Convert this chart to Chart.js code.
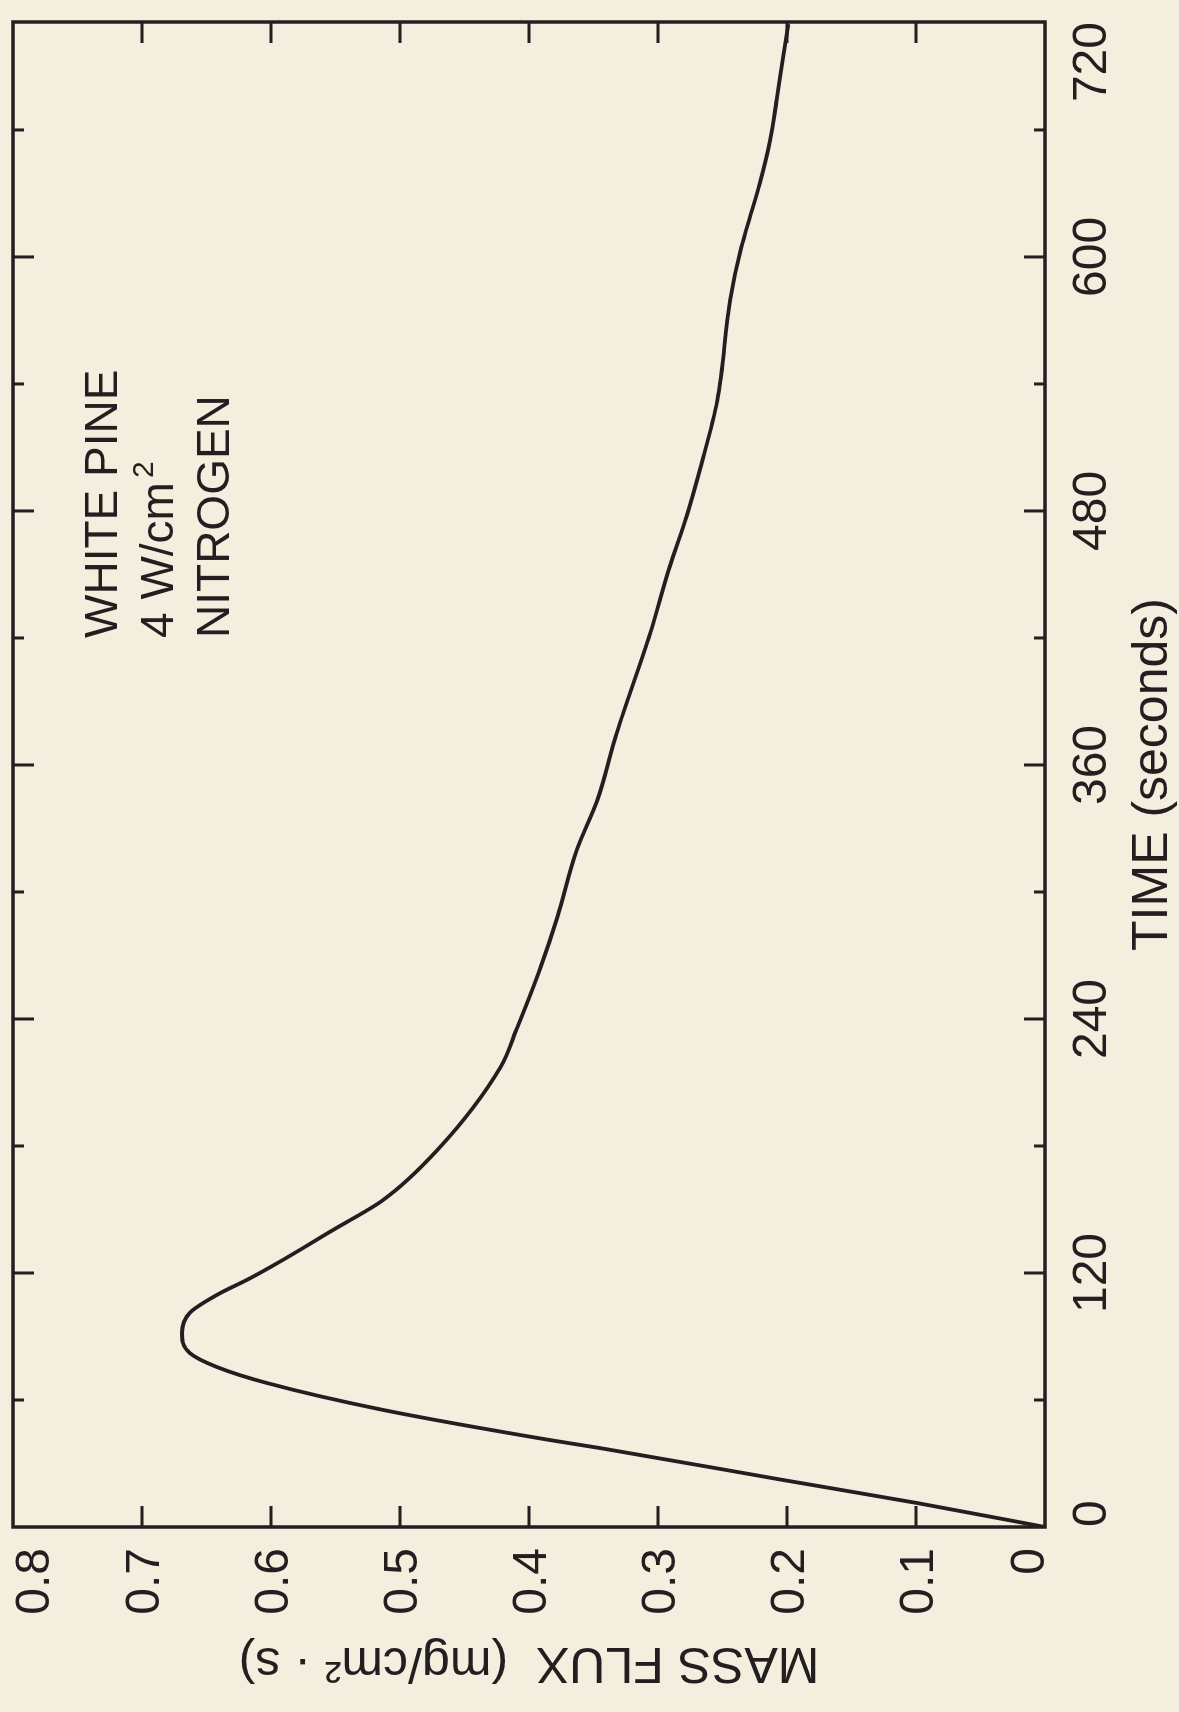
<!DOCTYPE html>
<html>
<head>
<meta charset="utf-8">
<script src="https://cdn.jsdelivr.net/npm/chart.js@4.4.1/dist/chart.umd.min.js"></script>
<style>
  html, body { margin: 0; padding: 0; background: #f3eedd; }
  body { width: 1179px; height: 1712px; position: relative; overflow: hidden; }
  #wrap { position: absolute; left: 0; top: 0; width: 1712px; height: 1179px;
          transform-origin: 0 0; transform: translate(0px, 1712px) rotate(-90deg); }
  canvas { display: block; background: #f3eedd; }
</style>
</head>
<body>
<div id="wrap"><canvas id="c" width="1712" height="1179"></canvas></div>
<script>
// ---- data ----
const TIME_S = [0, 11.3, 22.2, 37.3, 41.1, 55.3, 68.0, 75.6, 82.2, 91.6, 101.1, 109.6, 117.6, 126.1, 140.3, 154.5, 178.1, 217.3, 236.2, 264.5, 288.1, 319.8, 343.4, 375.1, 422.3, 453.5, 477.1, 500.7, 532.4, 579.6, 603.2, 614.1, 634.9, 655.2, 674.1, 694.4, 710];
const MASS_FLUX = [0, 0.099, 0.203, 0.345, 0.384, 0.513, 0.603, 0.642, 0.663, 0.669, 0.663, 0.642, 0.616, 0.591, 0.552, 0.513, 0.471, 0.422, 0.409, 0.391, 0.378, 0.363, 0.347, 0.332, 0.306, 0.291, 0.278, 0.267, 0.254, 0.244, 0.236, 0.231, 0.221, 0.213, 0.208, 0.203, 0.199];

const TIME_MIN = 0;
const TIME_MAX = 711;              // top edge of the frame
const TIME_LABEL_VALUES = [0, 120, 240, 360, 480, 600, TIME_MAX];
const TIME_LABELS = ['0', '120', '240', '360', '480', '600', '720'];
const TIME_MARKS = [60, 120, 180, 240, 300, 360, 420, 480, 540, 600, 660];
const TIME_MAJOR_STEP = 120;

const FLUX_MIN = 0, FLUX_MAX = 0.8;
const FLUX_TICKS = [0, 0.1, 0.2, 0.3, 0.4, 0.5, 0.6, 0.7, 0.8];
const FLUX_LABELS = ['0', '0.1', '0.2', '0.3', '0.4', '0.5', '0.6', '0.7', '0.8'];
const FLUX_MARKS = [0.1, 0.2, 0.3, 0.4, 0.5, 0.6, 0.7];

const NOTE_LINES = ['WHITE PINE', '4 W/cm', 'NITROGEN'];
const NOTE_SUP = ['', '2', ''];
const NOTE_AT = { time: 420, flux: 0.719 };

const X_TITLE = 'TIME (seconds)';
const Y_TITLE = 'MASS FLUX  (mg/cm² · s)';

// ---- styles ----
const INK = '#231f20';
const FONT = '"Liberation Sans", Arial, Helvetica, sans-serif';
const TICK_PX = 48;

const framePlugin = {
  id: 'frame',
  afterDatasetsDraw(chart) {
    const { ctx, chartArea: a, scales } = chart;
    const xs = scales.x, ys = scales.y;
    ctx.save();
    ctx.strokeStyle = INK;
    ctx.lineWidth = 3.5;
    ctx.lineCap = 'butt';
    ctx.strokeRect(a.left, a.top, a.right - a.left, a.bottom - a.top);
    ctx.lineWidth = 3;
    // time marks on top and bottom edges
    TIME_MARKS.forEach(t => {
      const px = xs.getPixelForValue(t);
      const len = (t % TIME_MAJOR_STEP === 0) ? 21 : 11;
      ctx.beginPath();
      ctx.moveTo(px, a.bottom); ctx.lineTo(px, a.bottom - len);
      ctx.moveTo(px, a.top); ctx.lineTo(px, a.top + len);
      ctx.stroke();
    });
    // flux marks on left and right edges
    FLUX_MARKS.forEach(f => {
      const py = ys.getPixelForValue(f);
      ctx.beginPath();
      ctx.moveTo(a.left, py); ctx.lineTo(a.left + 21, py);
      ctx.moveTo(a.right, py); ctx.lineTo(a.right - 21, py);
      ctx.stroke();
    });
    // flux tick labels (end labels kept inside the axis span)
    ctx.fillStyle = INK;
    ctx.font = TICK_PX + 'px ' + FONT;
    ctx.textAlign = 'right';
    const cap = TICK_PX * 0.716;
    FLUX_TICKS.forEach((v, i) => {
      const py = ys.getPixelForValue(v);
      let base;
      if (i === 0) base = py - 1;
      else if (i === FLUX_TICKS.length - 1) base = py + cap + 2;
      else base = py + cap / 2;
      ctx.textBaseline = 'alphabetic';
      ctx.fillText(FLUX_LABELS[i], a.left - 21, base);
    });
    // note text
    ctx.textAlign = 'left';
    const x0 = xs.getPixelForValue(NOTE_AT.time);
    const y0 = ys.getPixelForValue(NOTE_AT.flux);
    NOTE_LINES.forEach((line, i) => {
      const y = y0 + i * 56;
      ctx.font = '46px ' + FONT;
      ctx.fillText(line, x0, y);
      if (NOTE_SUP[i]) {
        const w = ctx.measureText(line).width;
        ctx.font = '30px ' + FONT;
        ctx.fillText(NOTE_SUP[i], x0 + w + 4, y - 20);
      }
    });
    ctx.restore();
  }
};

const tickFont = { family: FONT, size: TICK_PX };
const titleFont = { family: FONT, size: 50, lineHeight: 1.0 };

new Chart(document.getElementById('c'), {
  type: 'line',
  data: {
    datasets: [{
      data: TIME_S.map((t, i) => ({ x: t, y: MASS_FLUX[i] })),
      borderColor: INK,
      borderWidth: 3.8,
      pointRadius: 0,
      fill: false,
      cubicInterpolationMode: 'monotone'
    }]
  },
  options: {
    responsive: false,
    animation: false,
    devicePixelRatio: 1,
    layout: { padding: { top: 13, right: 22, bottom: 0, left: 0 } },
    plugins: { legend: { display: false }, tooltip: { enabled: false } },
    scales: {
      x: {
        type: 'linear', position: 'bottom', min: TIME_MIN, max: TIME_MAX,
        afterBuildTicks: s => { s.ticks = TIME_LABEL_VALUES.map(v => ({ value: v })); },
        afterFit: s => { s.height = 134; s.paddingLeft = 0; s.paddingRight = 0; },
        grid: { display: false, drawTicks: false },
        border: { display: false },
        ticks: {
          align: 'inner', autoSkip: false, maxRotation: 0, minRotation: 0,
          padding: 19, color: INK, font: tickFont,
          callback: (v, i) => TIME_LABELS[i]
        },
        title: { display: true, text: X_TITLE, color: INK, font: titleFont, padding: { top: 0, bottom: 1 } }
      },
      y: {
        type: 'linear', position: 'left', min: FLUX_MIN, max: FLUX_MAX,
        afterBuildTicks: s => { s.ticks = FLUX_TICKS.map(v => ({ value: v })); },
        afterFit: s => { s.width = 185; s.paddingTop = 0; s.paddingBottom = 0; },
        grid: { display: false, drawTicks: false },
        border: { display: false },
        ticks: { display: false },
        title: { display: true, text: Y_TITLE, color: INK, font: titleFont, padding: { top: 25, bottom: 0 } }
      }
    }
  },
  plugins: [framePlugin]
});
</script>
</body>
</html>
